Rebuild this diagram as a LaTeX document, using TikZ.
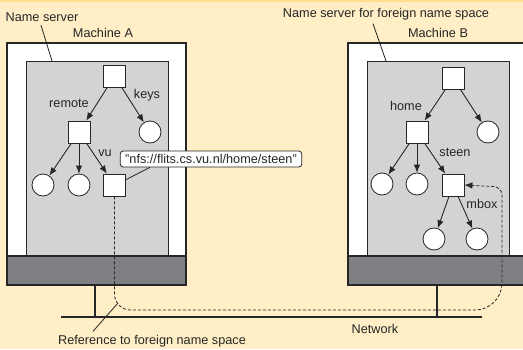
\documentclass[tikz,border=0pt]{standalone}
\usepackage{fontspec}
\setmainfont{Liberation Sans}
\usetikzlibrary{arrows.meta,positioning}
\definecolor{paper}{HTML}{FFEEC6}
\definecolor{topband}{HTML}{FFDF8A}
\definecolor{ink}{HTML}{262626}
\definecolor{inner}{HTML}{D3D3D6}
\definecolor{base}{HTML}{7F8084}

\begin{document}
\begin{tikzpicture}
[x=1pt, y=-1pt, font=\fontsize{12.7}{14}\selectfont, draw=ink, text=ink, line width=0.8pt,
dirnode/.style={rectangle, draw=ink, fill=white, inner sep=0pt, minimum size=22pt},
leafnode/.style={circle, draw=ink, fill=white, inner sep=0pt, minimum size=22pt},
edgearr/.style={draw=ink, -{Latex[length=8pt,width=6.5pt]}, line width=0.9pt},
callout/.style={rectangle, rounded corners=3pt, draw=ink, fill=white, inner xsep=5pt, inner ysep=1pt, minimum height=16pt},
machine/.style={draw=ink, line width=1.3pt}]

% paper
\fill[paper] (0,0) rectangle (523,349);
\fill[topband] (0,0) rectangle (523,2);
\useasboundingbox (0,0) rectangle (523,349);

% the two machines
\foreach \x in {7,348} {
  \draw[machine, fill=white] (\x,43) rectangle (\x+179,285);
  \draw[ink, fill=inner, line width=0.8pt] (\x+19,61) rectangle (\x+161,256);
  \draw[machine, fill=base] (\x,256) rectangle (\x+179,285);
}

% network
\draw[ink, line width=1.6pt] (61,317) -- (482,317);
\draw[ink, line width=1.6pt] (95,285) -- (95,317);
\draw[ink, line width=1.6pt] (437,285) -- (437,317);
\node (network) at (375,329) {Network};

% name space of machine A
\node[dirnode] (rootA) at (114.5,76) {};
\node[dirnode] (remote) at (79,132) {};
\node[leafnode] (keys) at (150,132) {};
\node[leafnode] (leafA1) at (43,185) {};
\node[leafnode] (leafA2) at (79,185) {};
\node[dirnode] (vu) at (114.5,185) {};

\draw[edgearr] (rootA) -- (remote);
\draw[edgearr] (rootA) -- (keys);
\draw[edgearr] (remote) -- (leafA1);
\draw[edgearr] (remote) -- (leafA2);
\draw[edgearr] (remote) -- (vu);

\node (remotelbl) at (69,103) {remote};
\node (keyslbl) at (147,95) {keys};
\node (vulbl) at (105,153) {vu};

% name space of machine B
\node[dirnode] (rootB) at (453,78) {};
\node[dirnode] (home) at (417,132) {};
\node[leafnode] (leafB0) at (488,132) {};
\node[leafnode] (leafB1) at (382,184) {};
\node[leafnode] (leafB2) at (417,184) {};
\node[dirnode] (steen) at (453,185) {};
\node[leafnode] (leafB3) at (434,239) {};
\node[leafnode] (leafB4) at (477,239) {};

\draw[edgearr] (rootB) -- (home);
\draw[edgearr] (rootB) -- (leafB0);
\draw[edgearr] (home) -- (leafB1);
\draw[edgearr] (home) -- (leafB2);
\draw[edgearr] (home) -- (steen);
\draw[edgearr] (steen) -- (leafB3);
\draw[edgearr] (steen) -- (leafB4);

\node (homelbl) at (406,106) {home};
\node (steenlbl) at (455,152) {steen};
\node (mboxlbl) at (482,204) {mbox};

% mount point
\node[callout] (nfs) at (211,159) {"nfs://flits.cs.vu.nl/home/steen"};
\draw[ink] ([xshift=30pt]nfs.south west) -- (vu.25);

\draw[ink, dash pattern=on 3pt off 2pt, -{Latex[length=8pt,width=6.5pt]}]
  (vu.south) [rounded corners=16pt] -- (114.5,310)
  [rounded corners=27pt] -- (502,310)
  [rounded corners=8pt] -- (502,187) -- (steen.east);

% labels
\node (nsA) at (42,17) {Name server};
\coordinate (nsAtip) at (52,61);
\draw[ink] ([xshift=-1pt]nsA.south) -- (nsAtip);
\node (machA) at (103,33) {Machine A};

\node (nsB) at (386,14) {Name server for foreign name space};
\coordinate (nsBtip) at (386,61);
\draw[ink] ([xshift=-13pt]nsB.south) -- (nsBtip);
\node (machB) at (438,33) {Machine B};

\node (reflbl) at (152,341) {Reference to foreign name space};
\coordinate (reftip) at (118,303);
\draw[ink] ([xshift=-59pt]reflbl.north) -- (reftip);
\end{tikzpicture}
\end{document}
